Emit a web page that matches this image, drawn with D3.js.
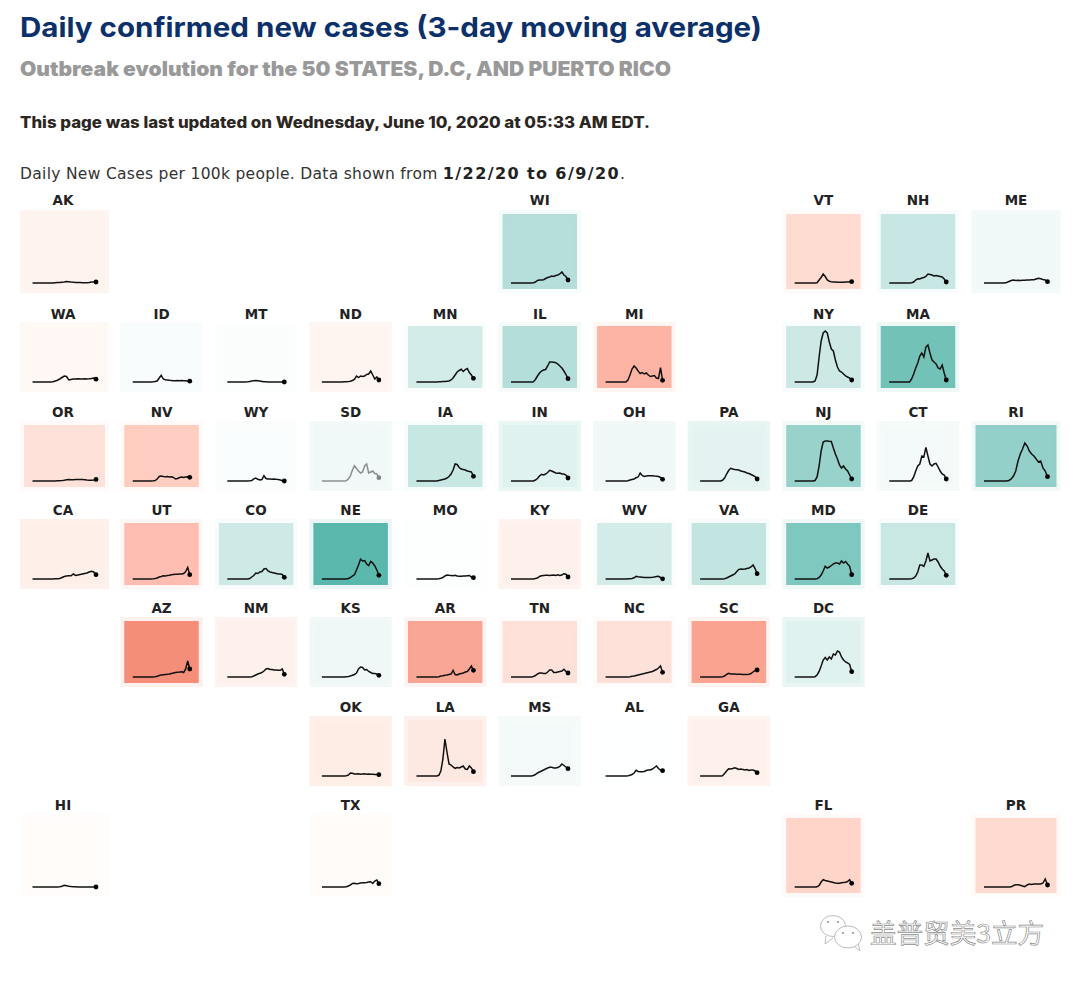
<!DOCTYPE html>
<html lang="en">
<head>
<meta charset="UTF-8">
<title>Daily confirmed new cases</title>
<script src="https://cdn.jsdelivr.net/npm/d3@7"></script>
<style>
  body { margin: 0; background: #fff; }
  svg { display: block; }
</style>
</head>
<body>
<div id="container"></div>
<script>
const titleText = "Daily confirmed new cases (3-day moving average)";
const subtitleText = "Outbreak evolution for the 50 STATES, D.C, AND PUERTO RICO";
const updatedText = "This page was last updated on Wednesday, June 10, 2020 at 05:33 AM EDT.";
const noteText = "Daily New Cases per 100k people. Data shown from ";
const noteDates = "1/22/20 to 6/9/20";
const watermarkText = "盖普贸美3立方";

// tile grid, all in the same order
const states = ["AK","WI","VT","NH","ME",
  "WA","ID","MT","ND","MN","IL","MI","NY","MA",
  "OR","NV","WY","SD","IA","IN","OH","PA","NJ","CT","RI",
  "CA","UT","CO","NE","MO","KY","WV","VA","MD","DE",
  "AZ","NM","KS","AR","TN","NC","SC","DC",
  "OK","LA","MS","AL","GA",
  "HI","TX","FL","PR"];
const gridCols = [0,5,8,9,10, 0,1,2,3,4,5,6,8,9, 0,1,2,3,4,5,6,7,8,9,10, 0,1,2,3,4,5,6,7,8,9, 1,2,3,4,5,6,7,8, 3,4,5,6,7, 0,3,8,10];
const gridRows = [0,0,0,0,0, 1,1,1,1,1,1,1,1,1, 2,2,2,2,2,2,2,2,2,2,2, 3,3,3,3,3,3,3,3,3,3, 4,4,4,4,4,4,4,4, 5,5,5,5,5, 6,6,6,6];

// recent trend: negative is falling (teal), positive is rising (red)
const trendScores = [.11,-.445,.32,-.335,-.085,
  .07,-.04,-.025,.09,-.27,-.46,.67,-.31,-.86,
  .265,.45,-.03,-.085,-.34,-.19,-.10,-.165,-.63,-.07,-.66,
  .15,.58,-.30,-1,-.012,.13,-.27,-.37,-.78,-.33,
  1,.13,-.10,.79,.27,.27,.82,-.19,
  .17,.2,-.07,-.005,.13,
  .03,.04,.38,.335];

const mutedStates = ["SD"];

// new cases per 100k, one reading every 5 days from 1/22 to 6/9
const AK = [0,0,0,0,0,0,0,0,0,0,.3,.5,.6,.8,1,1.5,1.3,1,.8,.6,.5,.5,.3,.3,.3,.5,1,1,1];
const WI = [0,0,0,0,0,0,0,0,0,0,0,.3,1,2.5,3,3,3.3,4.5,5.5,6,7,6.5,7.5,8,9,11,8,6.5,3];
const VT = [0,0,0,0,0,0,0,0,0,0,0,.3,3,5.5,9,6.5,3,1.8,1.3,1,.9,.8,.7,.7,.7,.9,1.1,1.2,1.3];
const NH = [0,0,0,0,0,0,0,0,0,0,0,.2,1,3,4.3,4,5,5.5,6.5,9,8.5,8,7,7.5,7,6.5,6,4,1];
const ME = [0,0,0,0,0,0,0,0,0,.1,.5,1.5,2.5,3,2.5,2.7,2.5,2.7,2.7,3,3,3.2,3.2,4,4.7,4.2,3.5,3,1.3];
const WA = [0,0,0,0,0,0,0,0,0,.3,1,1.8,3,4.5,6,5.5,2,2.5,3,3,3.2,3,3,3.2,3,3.2,3.5,4,2.8];
const ID = [0,0,0,0,0,0,0,0,0,0,.2,.5,1,4,6.7,3,2.2,2,1.7,1.5,1.3,1.3,1.5,1.3,1.5,1.2,1.2,1,.8];
const MT = [0,0,0,0,0,0,0,0,0,.1,.2,.5,.9,1.3,1.5,1.2,.9,.6,.3,.2,.1,.1,.1,.1,0,0,0,0,0];
const ND = [0,0,0,0,0,0,0,0,0,0,0,.2,.3,.5,.8,1.5,2.5,6,4.5,6,5.5,6,7.5,8,11,7,3,5,2];
const MN = [0,0,0,0,0,0,0,0,0,0,0,.2,.3,.4,.5,.8,1,2,4,7,10,11.5,12.7,10.5,12.5,13.5,9.5,7,3.7];
const IL = [0,0,0,0,0,0,0,0,0,0,0,.3,2.5,6,9,11,12,12.5,16,20,20,19.7,19.3,18,16,14,11,7.5,3.3];
const MI = [0,0,0,0,0,0,0,0,0,0,0,2,7,13,16,14,11,8.5,9.5,8,9,7,5.5,6,6.5,4,3.5,14.3,1.7];
const NY = [0,0,0,0,0,0,0,0,0,0,1,7,25,41,49,51,49,40,33,31,22,15,11,10,8,6,5,4,2];
const MA = [0,0,0,0,0,0,0,0,0,0,0,3,8,14,19,26,29,25,35,37,29,22,20,18,14,13,17,9,2];
const OR = [0,0,0,0,0,0,0,0,0,0,0,.2,.3,.5,.8,1.2,1.5,1.3,1.3,1.5,1.5,1.5,1.4,1.3,1,.8,.7,1,1.6];
const NV = [0,0,0,0,0,0,0,0,0,0,.2,.5,2,4.5,5,4.5,4.3,4.5,4,4.3,3.5,2,2.5,3.5,4,3.5,4,4.2,3.7];
const WY = [0,0,0,0,0,0,0,0,0,0,0,.2,.5,2.2,3,1.7,1,1.5,5.3,2.5,2,2,1.7,2,1.7,1.5,1,.3,0];
const SD = [0,0,0,0,0,0,0,0,0,0,0,0,.3,2,5,11,15.3,12.5,10,8,9,15,17,8,9,10,7.5,7,3.3];
const IA = [0,0,0,0,0,0,0,0,0,0,0,.5,1,1.5,2,3,4.5,7,11,17,16.5,13.5,12,11.5,11,10,9.5,9,4.7];
const IN = [0,0,0,0,0,0,0,0,0,0,0,0,1,2.5,5,6.7,6,7,8.5,10.7,10,9,8,7.7,8,7,7,6,3];
const OH = [0,0,0,0,0,0,0,0,0,0,0,.2,1,1.5,2,3.2,4,8,5.5,4.5,5,5.2,5.3,5.3,5,4.8,4.5,3.5,1.7];
const PA = [0,0,0,0,0,0,0,0,0,0,0,.7,3,7,10.5,12.7,12,11.5,11.3,11,10,9.5,9,8,7.5,6.5,5.5,4.5,2];
const NJ = [0,0,0,0,0,0,0,0,0,0,.5,4,15,30,39,40,40,39.7,39.5,33,27,22,16,13,15,12,10,6,2];
const CT = [0,0,0,0,0,0,0,0,0,0,0,.5,4,10,15,17,25,24,33.7,25,17,15,17,17.7,14,10,7,6,2];
const RI = [0,0,0,0,0,0,0,0,0,0,0,.5,2,5,10,20,27,32,38,35,30,27,25,22,19,20,13,10,4.3];
const CA = [0,0,0,0,0,0,0,0,0,.1,.2,.3,.6,1.5,2.5,3,3.3,3.2,5,3.5,4,4.5,5,5.5,6,7,7.7,7,4.3];
const UT = [0,0,0,0,0,0,0,0,0,0,.2,.5,1,2,2.5,3.2,3,3.5,3.7,4.2,4.5,4.7,4.8,5,5,5.5,7.5,11.7,4.3];
const CO = [0,0,0,0,0,0,0,0,0,0,0,.4,2,3.5,6,5.5,7,7.5,10,10.5,8,7,6.5,6,5.5,5,5,4.5,1.7];
const NE = [0,0,0,0,0,0,0,0,0,0,0,0,0,.5,1.5,3,4.3,9,14,20,18,18.5,15,13.5,17.5,16,13,9,3.7];
const MO = [0,0,0,0,0,0,0,0,0,0,0,.3,.8,1.5,3,4,3.7,3.5,3.3,3.7,3,2.8,2.7,3,3,3.3,3.5,2,1.3];
const KY = [0,0,0,0,0,0,0,0,0,0,0,0,.5,1,2.5,3.2,3.5,3.7,3.7,3.5,3.8,4,3.5,4.2,3.5,4,5.3,4.8,2];
const WV = [0,0,0,0,0,0,0,0,0,0,0,.2,.3,.5,1.2,2.7,2.2,2,1.8,1.6,1.5,1.5,1.6,1.7,2,2.5,2.7,1.5,.2];
const VA = [0,0,0,0,0,0,0,0,0,0,0,0,.3,1,2,3,4,5,7.5,9.5,10,9.7,10,10.5,11,12,14,10.5,5.3];
const MD = [0,0,0,0,0,0,0,0,0,0,0,.3,1.5,4,8,12.7,11,12,13.5,15,16,16,15,18,16,17.5,15,12.7,4.3];
const DE = [0,0,0,0,0,0,0,0,0,0,0,.3,1,3,7,14,14,12.7,18,26,18,19,20,20,17,13,10,8,3.7];
const AZ = [0,0,0,0,0,0,0,0,0,0,0,.2,.8,1.5,2,2.3,2.5,2.7,3,3.5,4,4.5,4.8,5,5.3,4.5,8,16,8];
const NM = [0,0,0,0,0,0,0,0,0,0,0,0,.3,1,2,3,3.7,4.5,6,8,8.5,7.5,7.5,7,7,6.8,6.7,8,2.7];
const KS = [0,0,0,0,0,0,0,0,0,0,0,0,.3,.6,1,1.7,2.5,4,8,10,9.5,7,7.5,5.5,4.5,3.5,3.5,3,1.7];
const AR = [0,0,0,0,0,0,0,0,0,0,0,.3,1,1.3,1.7,2,2.5,3,6.7,2.5,2,3,3.5,4,5,5.5,8,11,6.7];
const TN = [0,0,0,0,0,0,0,0,0,0,0,.5,1.5,3,4,4,3.5,3.5,5,7,7,4.5,4.5,5,5.5,6,7.7,5.5,4];
const NC = [0,0,0,0,0,0,0,0,0,0,0,0,.3,.7,1,1.5,2,2.5,3,3.5,4,4.5,5,5.5,6.5,7.5,9,11,4.7];
const SC = [0,0,0,0,0,0,0,0,0,0,0,.2,1,2.5,3.7,3,3,3,2.8,2.7,2.7,2.6,2.6,2.6,2.7,3.5,5,6.5,7];
const DC = [0,0,0,0,0,0,0,0,0,0,.3,2,5.5,11,17,19.5,17,20,18,23,22,26,25,20,17,15,14,12.5,5.3];
const OK = [0,0,0,0,0,0,0,0,0,0,0,.1,.3,1,3,2.7,2,2,2.2,1.8,2,2.2,1.8,2,1.8,1.7,1.5,1.5,1.3];
const LA = [0,0,0,0,0,0,0,0,0,0,0,.7,5,17,37,24,12,11,9,7.7,8.5,8,9,10,7,6.5,10,8,4.3];
const MS = [0,0,0,0,0,0,0,0,0,0,0,.5,1.5,3,4,5,6,7,8,8.7,8.7,8,8,8.5,9.5,12,10.5,9,7.3];
const AL = [0,0,0,0,0,0,0,0,0,0,0,.2,.7,1.5,3,5.7,4.5,4.2,4.3,4.5,5.5,6,6,7,8.5,10,7.5,6,5.3];
const GA = [0,0,0,0,0,0,0,0,0,0,0,.2,2.5,5,7.3,7,7.5,8.3,7.5,6.5,7,6.5,6,6.5,5.5,6,6,5,3.3];
const HI = [0,0,0,0,0,0,0,0,0,0,0,.1,.3,.8,1.7,1.2,.7,.4,.3,.2,.1,.1,.1,.1,.1,.1,.1,.1,0];
const TX = [0,0,0,0,0,0,0,0,0,0,0,0,.3,1,2,3.5,3.7,3.3,3.5,4,4.2,4.3,4.5,5,5.3,3.5,6,7,3.3];
const FL = [0,0,0,0,0,0,0,0,0,0,0,.2,1.5,5,7.3,6.5,6,5.5,5,4.5,4,3.7,3.7,4.2,4.5,4.7,5.5,7.3,3.7];
const PR = [0,0,0,0,0,0,0,0,0,0,0,0,.2,1.5,2.3,2.3,1.7,1,.3,2,3,2.5,3,3,3,3,4,8,2];

const seriesValues = [AK,WI,VT,NH,ME, WA,ID,MT,ND,MN,IL,MI,NY,MA,
  OR,NV,WY,SD,IA,IN,OH,PA,NJ,CT,RI, CA,UT,CO,NE,MO,KY,WV,VA,MD,DE,
  AZ,NM,KS,AR,TN,NC,SC,DC, OK,LA,MS,AL,GA, HI,TX,FL,PR];

const width = 1080;
const height = 981;
const lastCol = 10;
const lastRow = 6;

// edge columns and rows are a bit bigger, so the grid steps are not even
const colCenter = d3.scaleLinear().domain([0, 1, 9, 10]).range([64.5, 161.5, 918, 1016]);
const rowCenter = d3.scaleLinear().domain([0, 1, 2, 3, 4, 5, 6]).range([251.5, 357, 456, 554, 652, 751, 855.5]);
const labelY = d3.scaleLinear().domain([0, 1, 2, 3, 4, 5, 6]).range([204.5, 319, 417, 515, 613, 712, 810]);

const color = d3.scaleLinear()
    .domain([-1, 0, .15, .6, 1])
    .range(["#5bb8ad", "#ffffff", "#feefe8", "#ffbcae", "#f58e78"]);

// the halo round a tile only shows on the stronger colours
const haloOpacity = d3.scaleLinear().domain([.17, .27]).range([.85, .12]).clamp(true);

const svg = d3.select("#container").append("svg")
    .attr("width", width)
    .attr("height", height);

function addText(x, y, text, size, weight, fill, family, fitWidth) {
  const node = svg.append("text")
      .attr("x", x)
      .attr("y", y)
      .attr("font-family", family)
      .attr("font-size", size)
      .attr("font-weight", weight)
      .attr("fill", fill)
      .text(text);
  if (fitWidth) node.attr("textLength", fitWidth).attr("lengthAdjust", "spacingAndGlyphs");
  return node;
}

addText(20, 36.5, titleText, 27.5, 700, "#0c3069", "Inter", 742);
addText(20, 76, subtitleText, 20, 900, "#999999", "Inter", 651);
addText(20, 128, updatedText, 15.5, 800, "#2b2622", "Inter", 630);

const note = addText(20, 179, noteText, 15.5, 400, "#333333", "DejaVu Sans")
    .attr("letter-spacing", .3);
note.append("tspan")
    .attr("font-weight", 700)
    .attr("font-size", 16)
    .attr("letter-spacing", 1.4)
    .attr("fill", "#222")
    .text(noteDates);
note.append("tspan").text(".");

states.forEach((state, i) => {
  const col = gridCols[i];
  const row = gridRows[i];
  const w = (col === 0 || col === lastCol) ? 81 : 74.5;
  const h = (row === 0 || row === lastRow) ? 75 : 62;
  const left = colCenter(col) - w / 2;
  const top = rowCenter(row) - h / 2;
  const values = seriesValues[i];

  const x = d3.scaleLinear().domain([0, values.length - 1]).range([8.5, w - 9]);
  const y = d3.scaleLinear().domain([0, 50]).range([h - 6, h - 56]);
  const line = d3.line().x((d, k) => x(k)).y(d => y(d));

  const tile = svg.append("g").attr("transform", `translate(${left},${top})`);

  tile.append("rect")
      .attr("width", w)
      .attr("height", h)
      .attr("fill", color(trendScores[i]))
      .attr("stroke", color(trendScores[i]))
      .attr("stroke-opacity", haloOpacity(Math.abs(trendScores[i])))
      .attr("stroke-width", 8);

  const spark = tile.append("g").attr("opacity", mutedStates.includes(state) ? .45 : 1);
  spark.append("path")
      .attr("d", line(values))
      .attr("fill", "none")
      .attr("stroke", "#111")
      .attr("stroke-width", 1.5);
  spark.append("circle")
      .attr("cx", x(values.length - 1))
      .attr("cy", y(values[values.length - 1]))
      .attr("r", 2.4)
      .attr("fill", "#000");

  svg.append("text")
      .attr("x", colCenter(col) - (col === 0 ? 1.5 : 0))
      .attr("y", labelY(row))
      .attr("text-anchor", "middle")
      .attr("font-family", "DejaVu Sans")
      .attr("font-size", 13.5)
      .attr("font-weight", 700)
      .attr("fill", "#222")
      .text(state);
});

// watermark
const mark = svg.append("g")
    .attr("fill", "#fff")
    .attr("stroke", "#bdbdbd")
    .attr("stroke-width", 1);
mark.append("path").attr("d", "M826 936 L825 944 L833 938");
mark.append("ellipse").attr("cx", 833).attr("cy", 926).attr("rx", 12.5).attr("ry", 10.5);
mark.append("path").attr("d", "M854 946 L860 951 L858 943");
mark.append("ellipse").attr("cx", 848).attr("cy", 937).attr("rx", 13.5).attr("ry", 11);
mark.selectAll("circle.eye")
    .data([[828, 922], [838, 922], [843, 933], [853, 933]])
    .join("circle")
    .attr("class", "eye")
    .attr("cx", d => d[0])
    .attr("cy", d => d[1])
    .attr("r", 1.1)
    .attr("fill", "#999")
    .attr("stroke", "none");

addText(870, 943, watermarkText, 26, 400, "#fff", "Noto Sans CJK SC", 174)
    .attr("stroke", "#8f8f8f")
    .attr("stroke-width", .7);
</script>
</body>
</html>
